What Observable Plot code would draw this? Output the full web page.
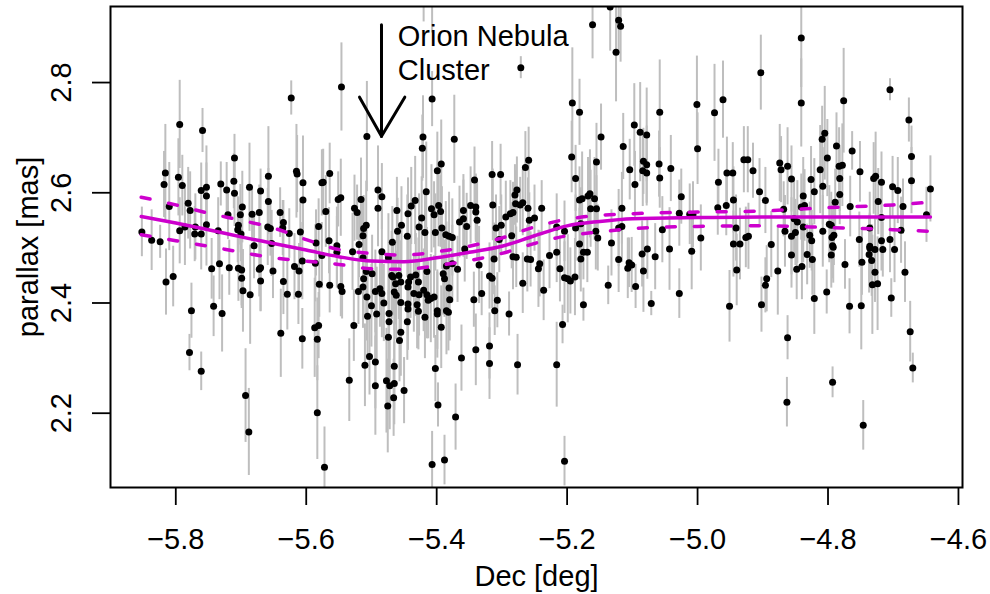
<!DOCTYPE html>
<html>
<head>
<meta charset="utf-8">
<script src="https://cdn.jsdelivr.net/npm/d3@7"></script>
<script src="https://cdn.jsdelivr.net/npm/@observablehq/plot@0.6"></script>
<style>
  html, body { margin: 0; padding: 0; background: #fff; }
</style>
</head>
<body>
<div id="chart"></div>
<script>
// ---- data ----
const dec = [
-5.623,-5.794,-5.759,-5.710,-5.816,-5.818,-5.796,-5.790,-5.810,-5.781,-5.778,-5.761,-5.753,-5.753,-5.731,-5.722,-5.711,-5.710,-5.720,-5.698,
-5.701,-5.687,-5.683,-5.670,-5.672,-5.658,-5.658,-5.615,-5.614,-5.605,-5.605,-5.640,-5.635,-5.636,-5.626,-5.609,-5.576,-5.581,-5.585,-5.852,
-5.837,-5.824,-5.794,-5.786,-5.770,-5.771,-5.761,-5.753,-5.735,-5.704,-5.705,-5.700,-5.659,-5.655,-5.680,-5.653,
-5.815,-5.804,-5.776,-5.779,-5.761,-5.745,-5.733,-5.742,-5.729,-5.718,-5.704,-5.699,-5.699,-5.697,-5.686,-5.693,-5.688,-5.672,-5.670,-5.670,
-5.651,-5.635,-5.629,-5.639,-5.618,-5.611,-5.606,-5.612,-5.606,-5.586,-5.580,-5.587,-5.581,-5.583,-5.583,-5.576,-5.572,
-5.546,-5.507,-5.407,-5.421,-5.422,-5.373,-5.271,-5.420,-5.407,-5.574,-5.564,-5.551,-5.547,-5.570,-5.565,-5.553,-5.526,-5.522,-5.516,-5.508,
-5.512,-5.513,-5.519,-5.490,-5.484,-5.490,-5.468,-5.461,-5.454,-5.460,-5.445,-5.444,-5.439,-5.433,-5.423,-5.427,-5.418,-5.416,-5.399,-5.393,
-5.408,-5.404,-5.397,-5.394,-5.402,-5.392,-5.386,-5.381,-5.376,-5.365,-5.359,-5.354,-5.359,-5.348,-5.340,-5.340,-5.338,-5.342,-5.315,-5.302,
-5.314,-5.309,-5.301,-5.294,-5.287,-5.283,-5.279,-5.277,-5.280,-5.272,-5.268,-5.264,-5.259,-5.260,-5.258,-5.285,-5.304,
-5.553,-5.529,-5.484,-5.513,-5.474,-5.564,-5.547,-5.545,-5.520,-5.527,-5.534,-5.508,-5.512,-5.513,-5.507,-5.499,-5.500,-5.506,-5.492,-5.494,
-5.487,-5.484,-5.481,-5.503,-5.510,-5.494,-5.494,-5.477,-5.472,-5.465,-5.475,-5.466,-5.450,-5.465,-5.474,-5.473,-5.473,-5.457,-5.455,-5.445,
-5.444,-5.444,-5.455,-5.469,-5.463,-5.467,-5.458,-5.455,-5.462,-5.465,-5.443,-5.440,-5.444,-5.428,-5.432,-5.435,-5.427,-5.430,-5.428,-5.420,
-5.415,-5.418,-5.413,-5.409,-5.404,-5.415,-5.399,-5.399,-5.393,-5.385,-5.382,-5.380,-5.381,-5.388,-5.390,-5.385,-5.376,-5.368,-5.402,-5.398,
-5.407,-5.388,-5.371,-5.362,-5.343,-5.331,-5.340,-5.319,-5.319,-5.311,-5.307,-5.289,-5.276,-5.319,-5.315,-5.335,-5.312,-5.283,-5.278,-5.261,
-5.256,-5.268,-5.357,
-5.161,-5.134,-5.121,-5.118,-5.125,-5.192,-5.181,-5.193,-5.187,-5.148,-5.155,-5.114,-5.097,-5.088,-5.078,-5.083,-5.078,-5.084,-5.078,-5.104,
-5.096,-5.058,-5.059,-5.058,-5.041,-5.001,-5.000,-4.974,-4.961,-4.929,-4.968,-4.955,-4.946,-4.945,-4.956,-4.969,-5.025,-5.028,-5.012,-5.007,
-5.116,-5.165,-5.168,-5.158,-5.177,-5.181,-5.164,-5.155,-5.239,-5.250,-5.216,-5.204,-5.187,-5.179,-5.156,-5.153,-5.181,-5.132,-5.121,-5.116,
-5.054,-4.995,-4.941,-4.926,-4.945,-4.935,
-5.227,-5.216,-5.242,-5.244,-5.236,-5.211,-5.204,-5.199,-5.195,-5.188,-5.207,-5.216,-5.204,-5.179,-5.175,-5.169,-5.175,-5.137,-5.121,-5.107,
-5.105,-5.101,-5.095,-5.083,-5.085,-5.077,-5.065,-5.071,-5.043,-5.028,-5.009,-4.951,-4.940,
-4.841,-4.903,-4.841,-4.776,-4.705,-4.676,-4.672,-4.672,-4.643,-4.923,-4.915,-4.905,-4.896,-4.874,-4.872,-4.862,-4.856,-4.868,-4.805,-4.809,
-4.787,-4.801,-4.812,-4.808,-4.826,-4.821,-4.783,-4.778,-4.782,-4.782,-4.763,-4.751,-4.789,-4.766,-4.838,-4.841,-4.836,-4.730,-4.727,-4.718,
-4.723,-4.701,-4.693,-4.685,-4.718,-4.649,-4.922,-4.887,-4.866,-4.856,-4.850,-4.847,-4.852,-4.838,-4.828,-4.825,-4.808,-4.798,-4.795,-4.794,
-4.791,-4.793,-4.752,-4.736,-4.718,-4.705,-4.688,-4.736,
-4.856,-4.832,-4.824,-4.877,-4.848,-4.840,-4.894,-4.896,-4.902,-4.862,-4.863,-4.821,-4.802,-4.793,-4.795,-4.792,-4.774,-4.767,-4.749,-4.748,
-4.746,-4.737,-4.736,-4.733,-4.728,-4.732,-4.724,-4.728,-4.716,-4.698,-4.703,-4.682,-4.674,-4.670
];
const parallax = [
2.772,2.724,2.713,2.663,2.636,2.615,2.628,2.613,2.575,2.581,2.568,2.604,2.610,2.594,2.616,2.605,2.621,2.599,2.560,2.574,
2.560,2.610,2.561,2.603,2.564,2.630,2.584,2.639,2.634,2.618,2.587,2.564,2.546,2.536,2.526,2.529,2.618,2.539,2.509,2.529,
2.514,2.511,2.531,2.538,2.538,2.525,2.525,2.542,2.531,2.541,2.533,2.525,2.538,2.535,2.504,2.508,
2.438,2.448,2.386,2.310,2.276,2.462,2.471,2.394,2.381,2.464,2.463,2.460,2.445,2.422,2.415,2.232,2.166,2.461,2.464,2.440,
2.458,2.439,2.416,2.345,2.466,2.458,2.476,2.416,2.335,2.472,2.434,2.355,2.359,2.334,2.201,2.486,2.102,
2.792,2.702,2.770,2.701,2.681,2.697,2.827,3.000,2.990,2.619,2.635,2.588,2.591,2.566,2.513,2.504,2.572,2.564,2.588,2.541,
2.535,2.522,2.506,2.605,2.593,2.572,2.510,2.568,2.541,2.530,2.521,2.562,2.576,2.586,2.554,2.538,2.528,2.602,2.640,2.652,
2.571,2.560,2.577,2.566,2.528,2.536,2.524,2.521,2.519,2.547,2.553,2.539,2.568,2.577,2.574,2.565,2.550,2.623,2.633,2.633,
2.578,2.536,2.541,2.556,2.562,2.564,2.580,2.605,2.596,2.578,2.582,2.646,2.659,2.572,2.550,2.522,2.515,
2.492,2.493,2.493,2.482,2.482,2.432,2.430,2.421,2.421,2.359,2.260,2.457,2.444,2.429,2.411,2.453,2.395,2.376,2.380,2.421,
2.426,2.417,2.400,2.303,2.287,2.293,2.250,2.259,2.250,2.254,2.213,2.228,2.241,2.285,2.338,2.366,2.381,2.332,2.347,2.366,
2.389,2.398,2.401,2.450,2.435,2.447,2.450,2.438,2.414,2.420,2.438,2.447,2.429,2.438,2.451,2.417,2.415,2.397,2.385,2.423,
2.415,2.374,2.405,2.408,2.411,2.457,2.386,2.380,2.356,2.386,2.383,2.406,2.427,2.444,2.453,2.467,2.471,2.461,2.281,2.215,
2.107,2.115,2.193,2.300,2.406,2.417,2.315,2.322,2.290,2.386,2.405,2.380,2.288,2.449,2.445,2.469,2.480,2.484,2.483,2.480,
2.479,2.436,2.498,
2.905,2.937,2.913,2.902,2.855,2.763,2.746,2.665,2.626,2.701,2.656,2.684,2.723,2.710,2.705,2.657,2.651,2.640,2.636,2.642,
2.615,2.746,2.652,2.627,2.644,2.760,2.680,2.745,2.769,2.660,2.619,2.636,2.636,2.587,2.577,2.573,2.593,2.563,2.561,2.560,
2.572,2.598,2.594,2.589,2.589,2.587,2.571,2.571,2.572,2.554,2.538,2.530,2.536,2.544,2.530,2.518,2.507,2.509,2.536,2.539,
2.533,2.518,2.536,2.519,2.507,2.507,
2.486,2.492,2.471,2.462,2.423,2.462,2.446,2.444,2.440,2.447,2.361,2.288,2.113,2.480,2.492,2.492,2.397,2.432,2.479,2.463,
2.473,2.469,2.430,2.458,2.489,2.498,2.484,2.399,2.498,2.417,2.494,2.394,2.460,
2.881,2.818,2.763,2.767,2.787,2.732,2.666,2.622,2.607,2.660,2.640,2.602,2.586,2.654,2.642,2.648,2.625,2.570,2.708,2.697,
2.685,2.663,2.642,2.612,2.624,2.602,2.648,2.650,2.626,2.597,2.676,2.638,2.583,2.575,2.594,2.574,2.577,2.626,2.630,2.619,
2.584,2.611,2.604,2.575,2.555,2.560,2.521,2.506,2.530,2.521,2.528,2.547,2.553,2.538,2.523,2.513,2.530,2.543,2.541,2.519,
2.523,2.504,2.515,2.503,2.513,2.515,2.532,2.536,
2.487,2.488,2.479,2.458,2.461,2.466,2.444,2.432,2.397,2.337,2.220,2.408,2.420,2.256,2.487,2.501,2.470,2.394,2.395,2.474,
2.178,2.488,2.500,2.477,2.456,2.433,2.435,2.497,2.497,2.497,2.409,2.456,2.348,2.282
];
const parallaxErr = [
0.031,0.080,0.040,0.043,0.088,0.060,0.070,0.055,0.080,0.065,0.070,0.050,0.075,0.060,0.040,0.050,0.050,0.060,0.045,0.065,
0.055,0.080,0.050,0.040,0.050,0.090,0.060,0.085,0.070,0.085,0.060,0.045,0.040,0.050,0.045,0.060,0.060,0.050,0.060,0.045,
0.055,0.030,0.060,0.070,0.060,0.050,0.065,0.075,0.060,0.050,0.060,0.050,0.070,0.050,0.060,0.060,
0.060,0.055,0.050,0.033,0.035,0.055,0.065,0.055,0.070,0.050,0.060,0.070,0.050,0.075,0.090,0.085,0.079,0.050,0.080,0.055,
0.050,0.060,0.065,0.080,0.060,0.050,0.070,0.055,0.055,0.070,0.060,0.090,0.060,0.075,0.085,0.060,0.073,
0.080,0.100,0.050,0.075,0.060,0.080,0.020,0.090,0.100,0.060,0.055,0.050,0.070,0.065,0.060,0.070,0.060,0.050,0.075,0.080,
0.060,0.070,0.060,0.080,0.060,0.070,0.065,0.060,0.070,0.060,0.075,0.065,0.070,0.080,0.075,0.060,0.070,0.090,0.070,0.080,
0.080,0.060,0.075,0.065,0.070,0.075,0.060,0.080,0.070,0.065,0.070,0.060,0.065,0.070,0.060,0.055,0.070,0.060,0.060,0.055,
0.065,0.060,0.055,0.065,0.060,0.055,0.060,0.060,0.055,0.050,0.060,0.065,0.060,0.055,0.050,0.060,0.060,
0.065,0.070,0.075,0.070,0.080,0.050,0.055,0.050,0.060,0.065,0.075,0.080,0.070,0.075,0.080,0.070,0.075,0.080,0.085,0.075,
0.070,0.080,0.070,0.070,0.075,0.085,0.090,0.095,0.080,0.075,0.085,0.070,0.060,0.080,0.085,0.090,0.080,0.075,0.080,0.070,
0.075,0.080,0.070,0.080,0.075,0.070,0.080,0.075,0.080,0.070,0.080,0.075,0.070,0.080,0.075,0.070,0.075,0.080,0.070,0.075,
0.080,0.075,0.070,0.080,0.075,0.080,0.070,0.080,0.075,0.080,0.070,0.075,0.080,0.070,0.075,0.080,0.070,0.060,0.060,0.040,
0.060,0.045,0.060,0.060,0.050,0.040,0.065,0.060,0.065,0.045,0.050,0.040,0.055,0.060,0.055,0.070,0.065,0.060,0.055,0.060,
0.050,0.055,0.060,
0.062,0.080,0.060,0.065,0.090,0.100,0.060,0.065,0.060,0.060,0.070,0.060,0.075,0.090,0.085,0.060,0.070,0.065,0.060,0.055,
0.060,0.095,0.060,0.055,0.060,0.088,0.065,0.088,0.070,0.060,0.060,0.065,0.055,0.060,0.055,0.050,0.050,0.060,0.055,0.060,
0.065,0.080,0.070,0.075,0.085,0.060,0.070,0.060,0.050,0.060,0.060,0.055,0.060,0.065,0.070,0.060,0.065,0.060,0.070,0.065,
0.060,0.060,0.060,0.055,0.060,0.065,
0.060,0.055,0.060,0.070,0.055,0.060,0.065,0.080,0.060,0.070,0.035,0.077,0.045,0.060,0.050,0.055,0.030,0.035,0.060,0.055,
0.045,0.050,0.040,0.075,0.060,0.055,0.060,0.022,0.075,0.045,0.070,0.065,0.065,
0.090,0.068,0.080,0.095,0.020,0.040,0.055,0.060,0.060,0.060,0.050,0.060,0.060,0.070,0.060,0.070,0.060,0.050,0.085,0.060,
0.060,0.070,0.080,0.070,0.060,0.060,0.070,0.075,0.060,0.055,0.035,0.055,0.060,0.055,0.070,0.060,0.065,0.065,0.080,0.055,
0.060,0.055,0.060,0.050,0.060,0.050,0.060,0.060,0.065,0.070,0.060,0.075,0.070,0.065,0.060,0.055,0.065,0.070,0.060,0.060,
0.055,0.060,0.050,0.060,0.055,0.060,0.060,0.065,
0.060,0.055,0.065,0.080,0.055,0.060,0.060,0.050,0.050,0.040,0.045,0.065,0.040,0.028,0.060,0.065,0.045,0.050,0.080,0.060,
0.045,0.070,0.060,0.065,0.055,0.090,0.085,0.060,0.050,0.060,0.035,0.055,0.055,0.027
];

// fitted trend (solid) and its band (dashed)
const fitDec  = [-5.853,-5.80,-5.75,-5.70,-5.65,-5.60,-5.55,-5.50,-5.45,-5.40,-5.35,-5.30,-5.25,-5.20,-5.15,-5.10,-5.00,-4.90,-4.80,-4.70,-4.643];
const fitMid  = [2.557,2.545,2.533,2.520,2.508,2.496,2.484,2.476,2.475,2.482,2.492,2.503,2.522,2.540,2.548,2.553,2.555,2.556,2.556,2.556,2.556];
const fitUp   = [2.592,2.578,2.563,2.550,2.536,2.515,2.497,2.490,2.487,2.493,2.503,2.518,2.538,2.552,2.559,2.562,2.565,2.567,2.573,2.578,2.583];
const fitLo   = [2.524,2.513,2.503,2.492,2.482,2.476,2.470,2.462,2.461,2.468,2.477,2.490,2.508,2.522,2.529,2.535,2.539,2.540,2.537,2.533,2.530];

// axes
const xTicks = [-5.8,-5.6,-5.4,-5.2,-5.0,-4.8,-4.6];
const yTicks = [2.2,2.4,2.6,2.8];

// annotation
const noteLines = ["Orion Nebula", "Cluster"];
const noteDec = [-5.4596, -5.4596];
const notePlx = [2.866, 2.8038];
const arrowDec = [-5.4846];
const arrowTop = [2.905];
const arrowTip = [2.7027];
const headDec = [-5.5183, -5.4489];
const headPlx = [2.7735, 2.7735];

// ---- build ----
const stars = dec.map((d, i) => ({dec: d, plx: parallax[i], err: parallaxErr[i]}));
const fit = fitDec.map((d, i) => ({dec: d, mid: fitMid[i], up: fitUp[i], lo: fitLo[i]}));
const heads = headDec.map((d, i) => ({x1: d, y1: headPlx[i], x2: arrowDec[0], y2: arrowTip[0]}));
const notes = noteLines.map((t, i) => ({t, x: noteDec[i], y: notePlx[i]}));

const fmt = d3.format(".1f");
const MAG = "#cd00cd";
const FS = 29;

const chart = Plot.plot({
  width: 990,
  height: 594,
  marginLeft: 110,
  marginRight: 28,
  marginTop: 6,
  marginBottom: 107,
  style: {fontFamily: "'Liberation Sans', Arial, Helvetica, sans-serif", fontSize: FS + "px", background: "#fff", color: "#000"},
  x: {domain: [-5.9001, -4.5938]},
  y: {domain: [2.0652, 2.938]},
  marks: [
    Plot.ruleX(stars, {x: "dec", y1: d => d.plx - d.err, y2: d => d.plx + d.err, stroke: "#bebebe", strokeWidth: 2, clip: true}),
    Plot.dot(stars, {x: "dec", y: "plx", r: 3.5, fill: "#000", stroke: null, clip: true}),
    Plot.line(fit, {x: "dec", y: "mid", stroke: MAG, strokeWidth: 3.5, curve: "monotone-x"}),
    Plot.line(fit, {x: "dec", y: "up", stroke: MAG, strokeWidth: 3.5, strokeDasharray: "9,19", strokeLinecap: "round", curve: "monotone-x"}),
    Plot.line(fit, {x: "dec", y: "lo", stroke: MAG, strokeWidth: 3.5, strokeDasharray: "9,19", strokeLinecap: "round", curve: "monotone-x"}),
    // annotation arrow
    Plot.link(arrowDec, {x1: d => d, x2: d => d, y1: () => arrowTop[0], y2: () => arrowTip[0], stroke: "#000", strokeWidth: 3, strokeLinecap: "round"}),
    Plot.link(heads, {x1: "x1", y1: "y1", x2: "x2", y2: "y2", stroke: "#000", strokeWidth: 3, strokeLinecap: "round"}),
    Plot.text(notes, {x: "x", y: "y", text: "t", textAnchor: "start", lineAnchor: "bottom", fontSize: FS, fill: "#000"}),
    // axes
    Plot.axisX({ticks: xTicks, tickSize: 18, tickPadding: 23, tickFormat: fmt, label: null, strokeWidth: 1.8, fontSize: FS}),
    Plot.axisY({ticks: yTicks, tickSize: 18, tickFormat: () => "", label: null, strokeWidth: 1.8}),
    Plot.text(yTicks, {y: d => d, text: d => fmt(d), frameAnchor: "left", dx: -40, rotate: -90, textAnchor: "middle", lineAnchor: "bottom", fontSize: FS, fill: "#000"}),
    Plot.text(["parallax [mas]"], {text: d => d, frameAnchor: "left", dx: -73, rotate: -90, textAnchor: "middle", lineAnchor: "bottom", fontSize: FS, fill: "#000"}),
    Plot.text(["Dec [deg]"], {text: d => d, frameAnchor: "bottom", dy: 98, textAnchor: "middle", lineAnchor: "bottom", fontSize: FS, fill: "#000"}),
    Plot.frame({stroke: "#000", strokeWidth: 2})
  ]
});
document.getElementById("chart").appendChild(chart);
</script>
</body>
</html>
